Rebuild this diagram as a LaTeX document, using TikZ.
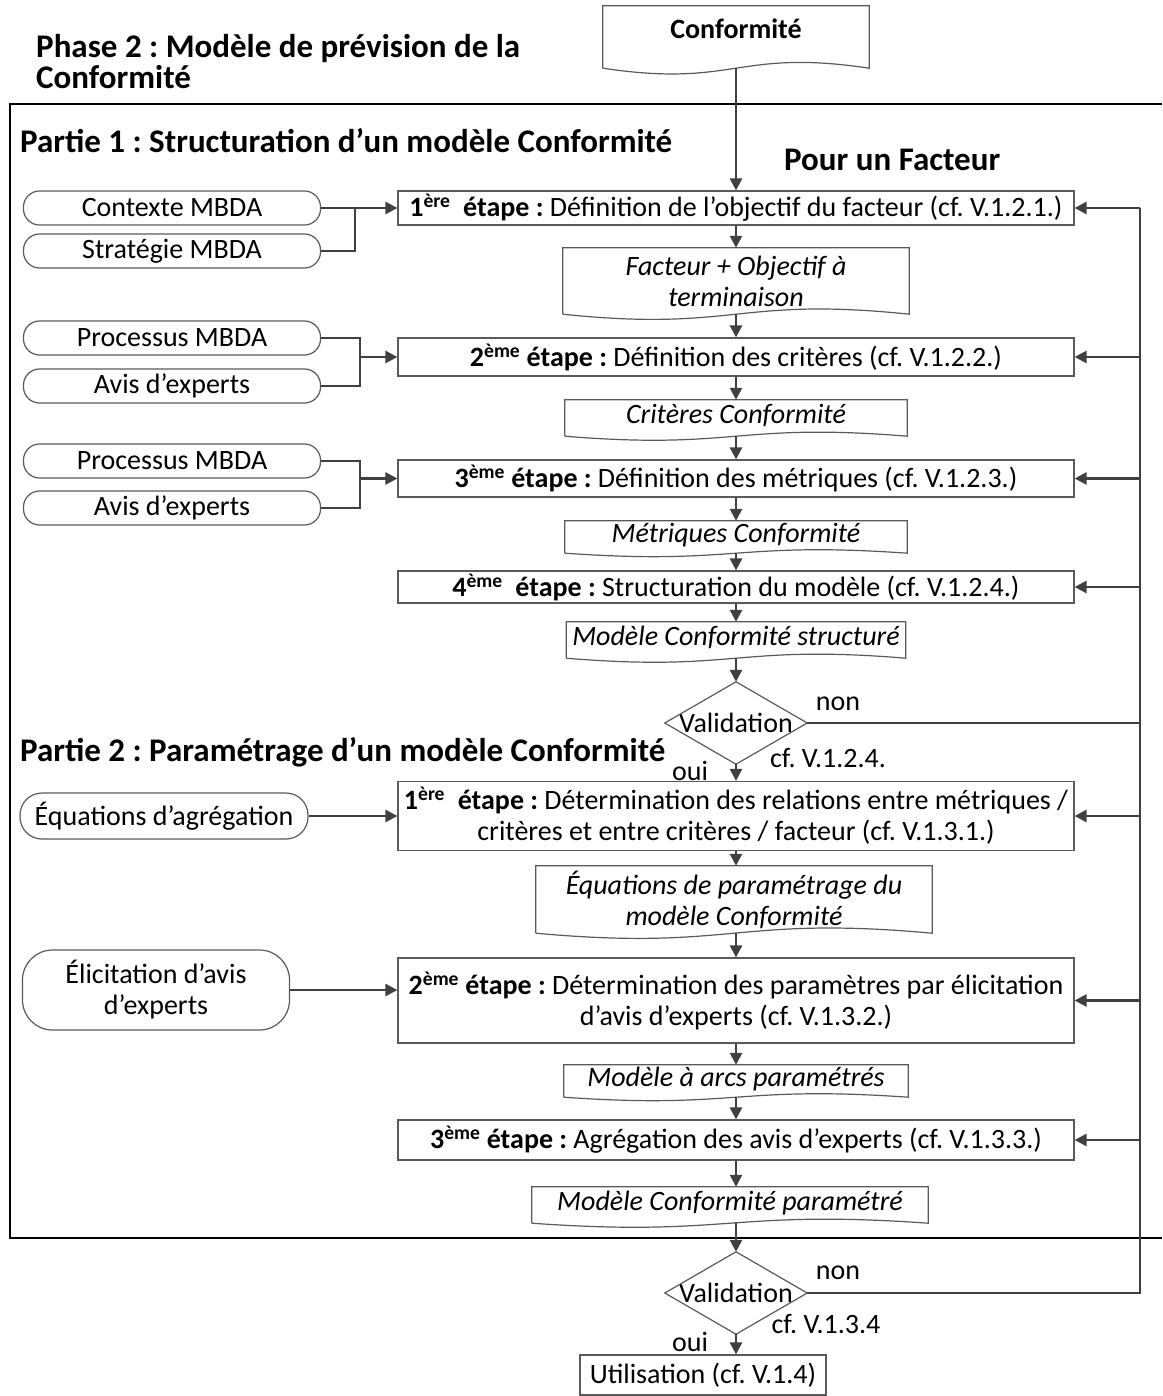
\documentclass[tikz,border=0pt]{standalone}
\usepackage{fontspec}
\setmainfont{Carlito}
\usetikzlibrary{arrows.meta, calc}

\definecolor{linegray}{HTML}{404040}
\definecolor{boxgray}{HTML}{5A5A5A}

% document shape with a wavy lower edge
\newcommand{\docwave}[2]{%
  \draw[draw=boxgray, line width=1.2pt] (#1.south west) -- (#1.north west) -- (#1.north east) -- (#1.south east)
    .. controls ($(#1.south)+(0pt,#2)$) and ($(#1.south)-(0pt,#2)$) .. (#1.south west);}
% decision lozenge drawn on the node's side midpoints
\newcommand{\rhombus}[1]{%
  \draw[draw=boxgray, line width=1.2pt] (#1.north) -- (#1.east) -- (#1.south) -- (#1.west) -- cycle;}

\begin{document}
\frenchspacing
\begin{tikzpicture}[x=1pt, y=-1pt,
    txt/.style={font=\fontsize{28}{31}\selectfont},
    title/.style={font=\fontsize{33}{31}\selectfont\bfseries, align=left, inner sep=0pt},
    stepbox/.style={rectangle, draw=boxgray, line width=1.2pt, minimum width=676pt, inner sep=0pt, align=center, txt},
    doc/.style={rectangle, inner sep=0pt, align=center, font=\fontsize{28}{31}\selectfont\itshape},
    docline/.style={doc, text height=20pt, text depth=10pt},
    source/.style={rectangle, draw=boxgray, line width=1.2pt, rounded corners=#1, minimum width=297pt, minimum height=34pt, inner sep=0pt, align=center, txt},
    source/.default=16pt,
    decision/.style={rectangle, inner sep=0pt, minimum width=142pt, minimum height=82pt, txt},
    label/.style={txt, inner sep=0pt},
    arrow/.style={draw=linegray, line width=2.6pt, -{Triangle[length=12pt, width=12pt]}},
    link/.style={draw=linegray, line width=2.6pt},
]
\useasboundingbox (0,0) rectangle (1162,1396);

% Titles
\node[title, anchor=west] (phase) at (36,62) {Phase 2 : Modèle de prévision de la\\Conformité};
\node[title, anchor=west] (partie1) at (20,141) {Partie 1 : Structuration d’un modèle Conformité};
\node[title, anchor=west] (facteur) at (784,160) {Pour un Facteur};
\node[title, anchor=west] (partie2) at (20,752) {Partie 2 : Paramétrage d’un modèle Conformité};

% Frame
\draw[line width=2pt] (1162,104) -- (10,104) -- (10,1238) -- (1162,1238);

% Input
\node[docline, font=\fontsize{28}{31}\selectfont\bfseries, text depth=16pt, minimum width=266pt, minimum height=62pt] (conf) at (736,37) {Conformité};
\docwave{conf}{20pt}

% Partie 1
\node[source] (ctx) at (172,208) {Contexte MBDA};
\node[source] (strat) at (172,251) {Stratégie MBDA};
\node[stepbox, minimum height=34pt] (s1) at (736,208) {\textbf{1\textsuperscript{ère}\ \ étape :} Définition de l’objectif du facteur (cf. V.1.2.1.)};
\node[doc, minimum width=346pt, minimum height=66pt] (obj) at (736,281) {Facteur + Objectif à\\terminaison};
\docwave{obj}{18pt}

\node[source] (proc1) at (172,338) {Processus MBDA};
\node[source] (avis1) at (172,386) {Avis d’experts};
\node[stepbox, minimum height=38pt] (s2) at (736,357) {\textbf{2\textsuperscript{ème} étape :} Définition des critères (cf. V.1.2.2.)};
\node[docline, minimum width=342pt, minimum height=36pt] (crit) at (736,418) {Critères Conformité};
\docwave{crit}{14pt}

\node[source] (proc2) at (172,461) {Processus MBDA};
\node[source] (avis2) at (172,508) {Avis d’experts};
\node[stepbox, minimum height=37pt] (s3) at (736,478.5) {\textbf{3\textsuperscript{ème} étape :} Définition des métriques (cf. V.1.2.3.)};
\node[docline, minimum width=342pt, minimum height=32pt] (metr) at (736,537) {Métriques Conformité};
\docwave{metr}{12pt}

\node[stepbox, minimum height=32pt] (s4) at (736,587) {\textbf{4\textsuperscript{ème}\ \ étape :} Structuration du modèle (cf. V.1.2.4.)};
\node[docline, minimum width=339pt, minimum height=36pt] (struct) at (736,640) {Modèle Conformité structuré};
\docwave{struct}{14pt}

\node[decision] (val1) at (736,723) {Validation};
\rhombus{val1}
\node[label] (non1) at (838,704) {non};
\node[label] (cf1) at (828,758) {cf. V.1.2.4.};
\node[label] (oui1) at (690,771) {oui};

\coordinate (j1) at (355,208);
\coordinate (j2) at (360,357);
\coordinate (j3) at (360,478.5);
\draw[arrow] (ctx.east) -- (s1.west);
\draw[link] (strat.east) -| (j1);
\draw[link] (proc1.east) -| (j2);
\draw[link] (avis1.east) -| (j2);
\draw[arrow] (j2) -- (s2.west);
\draw[link] (proc2.east) -| (j3);
\draw[link] (avis2.east) -| (j3);
\draw[arrow] (j3) -- (s3.west);

\draw[arrow] (conf.south) -- (s1.north);
\draw[arrow] (s1) -- (obj);
\draw[arrow] (obj) -- (s2);
\draw[arrow] (s2) -- (crit);
\draw[arrow] (crit) -- (s3);
\draw[arrow] (s3) -- (metr);
\draw[arrow] (metr) -- (s4);
\draw[arrow] (s4) -- (struct);
\draw[arrow] (struct) -- (val1);

% Partie 2
\node[source=22pt, minimum width=288pt, minimum height=46pt] (eqa) at (164,816) {Équations d’agrégation};
\node[stepbox, minimum height=69pt] (t1) at (736,816) {\textbf{1\textsuperscript{ère}\ \ étape :} Détermination des relations entre métriques /\\critères et entre critères / facteur (cf. V.1.3.1.)};
\node[doc, minimum width=396pt, minimum height=67pt] (eqp) at (734,899.5) {Équations de paramétrage du\\modèle Conformité};
\docwave{eqp}{18pt}

\node[source=30pt, minimum width=267pt, minimum height=80pt] (elic) at (156,990) {Élicitation d’avis\\d’experts};
\node[stepbox, minimum height=85pt] (t2) at (736,1000.5) {\textbf{2\textsuperscript{ème} étape :} Détermination des paramètres par élicitation\\d’avis d’experts (cf. V.1.3.2.)};
\node[docline, minimum width=344pt, minimum height=32pt] (arcs) at (736,1081) {Modèle à arcs paramétrés};
\docwave{arcs}{12pt}

\node[stepbox, minimum height=40pt] (t3) at (736,1140) {\textbf{3\textsuperscript{ème} étape :} Agrégation des avis d’experts (cf. V.1.3.3.)};
\node[docline, minimum width=396pt, minimum height=36pt] (param) at (730,1205) {Modèle Conformité paramétré};
\docwave{param}{14pt}

\draw[arrow] (val1) -- (t1);
\draw[arrow] (eqa) -- (t1.west);
\draw[arrow] (t1) -- (t1.south |- eqp.north);
\draw[arrow] (t1.south |- eqp.south) -- (t2);
\draw[arrow] (elic.east) -- (elic.east -| t2.west);
\draw[arrow] (t2) -- (arcs);
\draw[arrow] (arcs) -- (t3);
\draw[arrow] (t3) -- (t3.south |- param.north);

% Final check
\node[decision] (val2) at (736,1293) {Validation};
\rhombus{val2}
\node[label] (non2) at (838,1273) {non};
\node[label] (cf2) at (826,1324) {cf. V.1.3.4};
\node[label] (oui2) at (690,1342) {oui};
\node[rectangle, draw=boxgray, line width=1.2pt, minimum width=246pt, minimum height=40pt, txt] (util) at (703,1375) {Utilisation (cf. V.1.4)};

\draw[arrow] (val1.south |- param.south) -- (val2);
\draw[arrow] (val2.south) -- (val2.south |- util.north);

% Feedback loops
\coordinate (fb1) at (1140,723);
\coordinate (fb2) at (1140,1293);
\coordinate (fbtop) at (1140,208);
\draw[link] (val1.east) -- (fb1);
\draw[link] (val2.east) -- (fb2) -- (fbtop);
\draw[arrow] (s1.east -| fbtop) -- (s1.east);
\draw[arrow] (s2.east -| fbtop) -- (s2.east);
\draw[arrow] (s3.east -| fbtop) -- (s3.east);
\draw[arrow] (s4.east -| fbtop) -- (s4.east);
\draw[arrow] (t1.east -| fbtop) -- (t1.east);
\draw[arrow] (t2.east -| fbtop) -- (t2.east);
\draw[arrow] (t3.east -| fbtop) -- (t3.east);

\end{tikzpicture}
\end{document}
